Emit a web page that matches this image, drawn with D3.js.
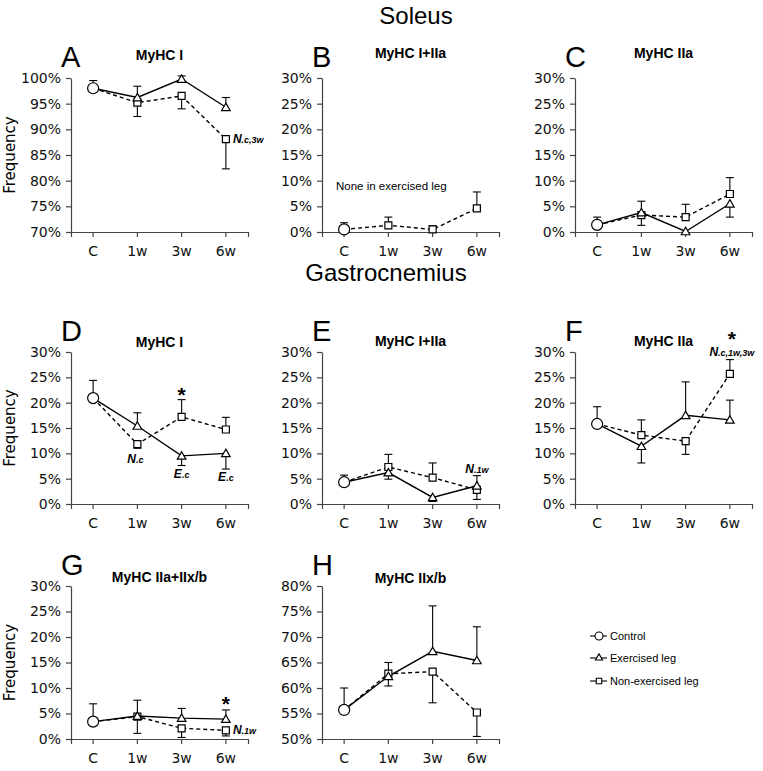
<!DOCTYPE html>
<html><head><meta charset="utf-8">
<script src="https://cdn.jsdelivr.net/npm/d3@7"></script>
<style>
body{margin:0;background:#fff;}
svg{display:block;}
</style></head>
<body>
<svg id="chart" width="763" height="771"></svg>
<script>
// ---------- DATA ----------
const categories = ["C", "1w", "3w", "6w"];
const weeks = ["1w", "3w", "6w"];

// A: Soleus MyHC I
const A_control = [98.0, 99.5];           // [mean, error-bar tip]
const A_exercised = [96.2, 99.8, 94.3];
const A_exercisedTip = [98.4, 100.4, 96.2];
const A_nonExercised = [95.2, 96.5, 88.1];
const A_nonExercisedTip = [92.5, 94.0, 82.3];

// B: Soleus MyHC I+IIa
const B_control = [0.5, 1.8];
const B_nonExercised = [1.3, 0.5, 4.6];
const B_nonExercisedTip = [2.9, 1.2, 7.8];

// C: Soleus MyHC IIa
const C_control = [1.4, 2.9];
const C_exercised = [3.8, 0.1, 5.5];
const C_exercisedTip = [1.3, 0.1, 2.9];
const C_nonExercised = [3.3, 2.9, 7.4];
const C_nonExercisedTip = [6.0, 5.4, 10.6];

// D: Gastrocnemius MyHC I
const D_control = [20.9, 24.4];
const D_exercised = [15.4, 9.5, 10.0];
const D_exercisedTip = [18.0, 7.6, 6.9];
const D_nonExercised = [11.8, 17.2, 14.7];
const D_nonExercisedTip = [11.0, 20.6, 17.1];

// E: Gastrocnemius MyHC I+IIa
const E_control = [4.3, 5.7];
const E_exercised = [6.2, 1.3, 3.6];
const E_exercisedTip = [4.9, 0.5, 5.6];
const E_nonExercised = [7.3, 5.2, 2.8];
const E_nonExercisedTip = [9.8, 8.1, 0.9];

// F: Gastrocnemius MyHC IIa
const F_control = [15.8, 19.2];
const F_exercised = [11.4, 17.5, 16.6];
const F_exercisedTip = [8.1, 24.1, 20.5];
const F_nonExercised = [13.6, 12.4, 25.7];
const F_nonExercisedTip = [16.6, 9.8, 28.5];

// G: Gastrocnemius MyHC IIa+IIx/b
const G_control = [3.4, 6.9];
const G_exercised = [4.5, 4.1, 3.9];
const G_exercisedTip = [7.6, 6.0, 5.7];
const G_nonExercised = [4.4, 2.1, 1.7];
const G_nonExercisedTip = [1.1, 0.3, 0.6];

// H: Gastrocnemius MyHC IIx/b
const H_control = [55.7, 60.0];
const H_exercised = [62.3, 67.2, 65.4];
const H_exercisedTip = [65.0, 76.1, 72.0];
const H_nonExercised = [62.8, 63.2, 55.2];
const H_nonExercisedTip = [60.4, 57.1, 50.5];

const yDomainSoleusI = [70, 100];
const yDomainSmall = [0, 30];
const yDomainIIxb = [50, 80];

const sectionTitles = ["Soleus", "Gastrocnemius"];
const legendLabels = ["Control", "Exercised leg", "Non-exercised leg"];

// ---------- LAYOUT ----------
const colX = [71, 322, 575];
const plotW = 177;
const rows = [[78, 232], [352, 504], [586, 739]];

const panels = [
  {id:"A", title:"MyHC I", col:0, row:0, dom:yDomainSoleusI, ctrl:A_control, ex:A_exercised, exTip:A_exercisedTip, non:A_nonExercised, nonTip:A_nonExercisedTip, ylab:true, titleY:60},
  {id:"B", title:"MyHC I+IIa", col:1, row:0, dom:yDomainSmall, ctrl:B_control, ex:null, non:B_nonExercised, nonTip:B_nonExercisedTip, titleY:58},
  {id:"C", title:"MyHC IIa", col:2, row:0, dom:yDomainSmall, ctrl:C_control, ex:C_exercised, exTip:C_exercisedTip, non:C_nonExercised, nonTip:C_nonExercisedTip, titleY:58},
  {id:"D", title:"MyHC I", col:0, row:1, dom:yDomainSmall, ctrl:D_control, ex:D_exercised, exTip:D_exercisedTip, non:D_nonExercised, nonTip:D_nonExercisedTip, ylab:true, titleY:347},
  {id:"E", title:"MyHC I+IIa", col:1, row:1, dom:yDomainSmall, ctrl:E_control, ex:E_exercised, exTip:E_exercisedTip, non:E_nonExercised, nonTip:E_nonExercisedTip, titleY:346},
  {id:"F", title:"MyHC IIa", col:2, row:1, dom:yDomainSmall, ctrl:F_control, ex:F_exercised, exTip:F_exercisedTip, non:F_nonExercised, nonTip:F_nonExercisedTip, titleY:346},
  {id:"G", title:"MyHC IIa+IIx/b", col:0, row:2, dom:yDomainSmall, ctrl:G_control, ex:G_exercised, exTip:G_exercisedTip, non:G_nonExercised, nonTip:G_nonExercisedTip, ylab:true, titleY:582},
  {id:"H", title:"MyHC IIx/b", col:1, row:2, dom:yDomainIIxb, ctrl:H_control, ex:H_exercised, exTip:H_exercisedTip, non:H_nonExercised, nonTip:H_nonExercisedTip, titleY:583}
];

// annotations: series "ex"/"non", anchored at point (or tip) with pixel offsets
const annotations = [
  {p:"A", s:"non", w:"6w", at:"val", dx:7, dy:4, main:"N", sub:".c,3w", anchor:"start"},
  {p:"D", s:"non", w:"1w", at:"val", dx:-2, dy:19, main:"N", sub:".c", anchor:"middle"},
  {p:"D", s:"non", w:"3w", at:"tip", dx:0, dy:2, star:true},
  {p:"D", s:"ex", w:"3w", at:"tip", dx:0, dy:13, main:"E", sub:".c", anchor:"middle"},
  {p:"D", s:"ex", w:"6w", at:"tip", dx:0, dy:12, main:"E", sub:".c", anchor:"middle"},
  {p:"E", s:"ex", w:"6w", at:"tip", dx:0, dy:-3, main:"N", sub:".1w", anchor:"middle"},
  {p:"F", s:"non", w:"6w", at:"tip", dx:2, dy:-4, main:"N", sub:".c,1w,3w", anchor:"middle"},
  {p:"F", s:"non", w:"6w", at:"tip", dx:2, dy:-14, star:true},
  {p:"G", s:"ex", w:"6w", at:"tip", dx:0, dy:1, star:true},
  {p:"G", s:"non", w:"6w", at:"val", dx:7, dy:4, main:"N", sub:".1w", anchor:"start"}
];

const svg = d3.select("#chart");
const FONT = "'DejaVu Sans', Verdana, sans-serif";
const ARIAL = "'Liberation Sans', Arial, sans-serif";

svg.append("text").attr("x", 416).attr("y", 24).attr("text-anchor","middle")
  .style("font-family", ARIAL).style("font-size","24px").text(sectionTitles[0]);
svg.append("text").attr("x", 386).attr("y", 281).attr("text-anchor","middle")
  .style("font-family", ARIAL).style("font-size","24px").text(sectionTitles[1]);

const triangle = d3.symbol().type(d3.symbolTriangle).size(32);
const square = d3.symbol().type(d3.symbolSquare).size(49);

const scales = {};

panels.forEach(p => {
  const x0 = colX[p.col], x1 = x0 + plotW;
  const [yT, yB] = rows[p.row];
  const x = d3.scaleBand().domain(categories).range([x0, x1]).paddingInner(0).paddingOuter(0);
  const y = d3.scaleLinear().domain(p.dom).range([yB, yT]);
  const cx = c => x(c) + x.bandwidth()/2;
  scales[p.id] = {x, y, cx};
  const g = svg.append("g");

  // axes
  const ya = g.append("g").attr("transform", `translate(${x0},0)`)
    .call(d3.axisLeft(y).tickValues(d3.range(p.dom[0], p.dom[1]+0.1, 5)).tickSize(5).tickSizeOuter(0).tickPadding(5).tickFormat(d => d + "%"));
  const xa = g.append("g").attr("transform", `translate(0,${yB})`)
    .call(d3.axisBottom(x).tickSize(5).tickSizeOuter(5).tickPadding(9));
  [ya, xa].forEach(a => {
    a.selectAll("path,line").attr("stroke", "#444").attr("stroke-width", 1.2);
    a.selectAll("text").style("font-family", FONT).style("font-size", "14px").attr("fill", "#111");
  });

  // panel letter & title
  g.append("text").attr("x", x0 - 10).attr("y", yT - 11).style("font-family", ARIAL).style("font-size","29px").text(p.id);
  g.append("text").attr("x", (x0 + x1)/2).attr("y", p.titleY).attr("text-anchor","middle")
    .style("font-family", ARIAL).style("font-weight","bold").style("font-size","14px").text(p.title);
  if (p.ylab) {
    g.append("text").attr("transform", `translate(15,${(yT+yB)/2}) rotate(-90)`).attr("text-anchor","middle")
      .style("font-family", FONT).style("font-size","15px").text("Frequency");
  }

  const ctrlPt = {c:"C", v:p.ctrl[0], tip:p.ctrl[1]};
  const line = d3.line().x(d => cx(d.c)).y(d => y(d.v));
  const series = [];
  if (p.ex) series.push({key:"ex", pts:[ctrlPt].concat(weeks.map((w,i)=>({c:w, v:p.ex[i], tip:p.exTip[i]}))), dash:null});
  if (p.non) series.push({key:"non", pts:[ctrlPt].concat(weeks.map((w,i)=>({c:w, v:p.non[i], tip:p.nonTip[i]}))), dash:"4,3"});

  // lines (non first, ex on top)
  series.slice().reverse().forEach(s => {
    g.append("path").datum(s.pts).attr("d", line).attr("fill","none").attr("stroke","#000")
      .attr("stroke-width", 1.4).attr("stroke-dasharray", s.dash);
  });
  // error bars
  const allErr = [ctrlPt];
  series.forEach(s => s.pts.slice(1).forEach(d => allErr.push(d)));
  allErr.forEach(d => {
    if (Math.abs(d.tip - d.v) < 0.05) return;
    g.append("line").attr("x1", cx(d.c)).attr("x2", cx(d.c)).attr("y1", y(d.v)).attr("y2", y(d.tip))
      .attr("stroke","#000").attr("stroke-width",1.1);
    g.append("line").attr("x1", cx(d.c)-4).attr("x2", cx(d.c)+4).attr("y1", y(d.tip)).attr("y2", y(d.tip))
      .attr("stroke","#000").attr("stroke-width",1.1);
  });
  // markers
  series.slice().reverse().forEach(s => {
    g.selectAll(null).data(s.pts.slice(1)).enter().append("path")
      .attr("d", s.key === "ex" ? triangle : square)
      .attr("transform", d => `translate(${cx(d.c)},${y(d.v) + (s.key==="ex" ? 0.8 : 0)})`)
      .attr("fill","#fff").attr("stroke","#000").attr("stroke-width",1.2);
  });
  g.append("circle").attr("cx", cx("C")).attr("cy", y(p.ctrl[0])).attr("r", 5.5)
    .attr("fill","#fff").attr("stroke","#000").attr("stroke-width",1.2);

  if (p.id === "B") {
    g.append("text").attr("x", 336).attr("y", 190).style("font-family", ARIAL).style("font-size","11.5px")
      .text("None in exercised leg");
  }
});

// annotations
annotations.forEach(a => {
  const P = panels.find(p => p.id === a.p), S = scales[a.p];
  const idx = weeks.indexOf(a.w);
  const vals = a.s === "ex" ? P.ex : P.non, tips = a.s === "ex" ? P.exTip : P.nonTip;
  const v = a.at === "tip" ? tips[idx] : vals[idx];
  const px = S.cx(a.w) + a.dx, py = S.y(v) + a.dy;
  if (a.star) {
    svg.append("text").attr("x", px).attr("y", py).attr("text-anchor","middle")
      .style("font-family", ARIAL).style("font-weight","bold").style("font-size","21px").text("*");
  } else {
    const t = svg.append("text").attr("x", px).attr("y", py).attr("text-anchor", a.anchor)
      .style("font-family", ARIAL).style("font-weight","bold").style("font-style","italic");
    t.append("tspan").style("font-size","12px").text(a.main);
    t.append("tspan").style("font-size","9px").text(a.sub);
  }
});

// legend
const lg = svg.append("g");
const legY = [636, 658, 681];
legendLabels.forEach((lab, i) => {
  const yy = legY[i];
  lg.append("line").attr("x1", 590).attr("x2", 607).attr("y1", yy).attr("y2", yy).attr("stroke","#000").attr("stroke-width",1.1);
  if (i === 0) lg.append("circle").attr("cx", 599).attr("cy", yy).attr("r", 4).attr("fill","#fff").attr("stroke","#000").attr("stroke-width",1.1);
  if (i === 1) lg.append("path").attr("d", d3.symbol().type(d3.symbolTriangle).size(22)).attr("transform", `translate(599,${yy})`).attr("fill","#fff").attr("stroke","#000").attr("stroke-width",1.1);
  if (i === 2) lg.append("path").attr("d", d3.symbol().type(d3.symbolSquare).size(30)).attr("transform", `translate(599,${yy})`).attr("fill","#fff").attr("stroke","#000").attr("stroke-width",1.1);
  lg.append("text").attr("x", 610).attr("y", yy + 4).style("font-family", ARIAL).style("font-size","11px").text(lab);
});
</script>
</body></html>
